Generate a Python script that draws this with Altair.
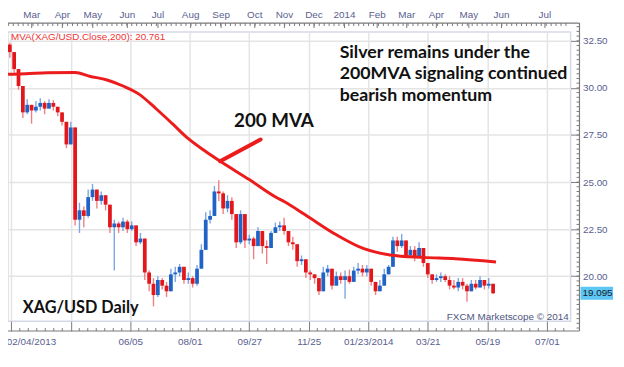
import altair as alt
import pandas as pd
import numpy as np

# ---------------- data ----------------
# candles: one every 3 trading days, starting at bar index -1
bar_start = -1
bar_step = 3
first_open = 32.3
closes = [31.9, 31.0, 30.1, 28.7, 29.1, 28.8, 29.0, 29.2, 28.9, 29.2,
          29.0, 28.7, 28.2, 27.0, 27.9, 23.0, 23.5, 23.2, 24.2, 24.6,
          24.0, 24.3, 23.8, 22.6, 22.8, 22.6, 22.9, 22.5, 22.7, 21.8,
          22.0, 20.2, 19.6, 19.0, 19.8, 19.5, 19.2, 20.1, 20.2, 20.5,
          19.8, 19.9, 19.6, 20.4, 21.4, 23.0, 23.2, 24.5, 24.4, 23.6,
          24.0, 23.3, 21.8, 23.3, 21.9, 22.0, 21.6, 22.4, 21.6, 21.5,
          22.3, 22.6, 22.7, 22.4, 21.8, 21.7, 20.8, 20.9, 20.2, 20.1,
          19.9, 19.2, 20.2, 20.4, 19.5, 20.0, 19.8, 20.0, 19.7, 20.3,
          20.4, 20.2, 20.4, 19.7, 19.2, 19.5, 20.1, 20.5, 21.9, 21.6,
          21.9, 21.1, 21.4, 21.0, 21.5, 20.7, 20.1, 19.8, 19.9, 20.0,
          19.8, 19.5, 19.4, 19.7, 19.5, 19.2, 19.6, 19.4, 19.8, 19.5,
          19.6, 19.095]
highs = [32.4, 31.5, 30.8, 29.8, 29.4, 29.1, 29.3, 29.45, 29.3, 29.4,
         29.35, 29.0, 28.6, 27.9, 28.2, 27.6, 23.9, 23.7, 24.6, 24.9,
         24.6, 24.5, 24.2, 23.5, 23.0, 22.9, 23.1, 23.0, 22.9, 22.3,
         22.3, 21.9, 20.3, 19.9, 20.0, 19.9, 19.7, 20.4, 20.5, 20.65,
         20.3, 20.2, 20.0, 20.6, 21.7, 23.4, 23.5, 24.8, 25.1, 24.5,
         24.3, 24.2, 22.8, 23.5, 22.9, 22.2, 22.1, 22.6, 22.1, 21.9,
         22.4, 22.85, 22.9, 23.1, 22.3, 22.1, 21.3, 21.1, 20.6, 20.3,
         20.1, 19.7, 20.5, 20.6, 20.2, 20.25, 20.2, 20.3, 20.35, 20.5,
         20.7, 20.6, 20.6, 20.2, 19.6, 19.8, 20.4, 20.6, 22.1, 22.1,
         22.25, 21.8, 21.6, 21.6, 21.8, 21.4, 20.6, 20.1, 20.1, 20.2,
         20.1, 20.0, 19.8, 19.9, 19.9, 19.6, 19.8, 19.8, 20.0, 19.8,
         19.9, 19.6]
lows = [31.6, 30.8, 29.9, 28.4, 28.6, 28.1, 28.7, 28.8, 28.6, 28.9,
        28.8, 28.5, 28.0, 26.8, 27.3, 22.7, 22.3, 22.6, 23.1, 24.0,
        23.6, 23.8, 23.5, 22.3, 20.3, 22.3, 22.4, 22.3, 22.4, 21.6,
        21.7, 19.8, 19.2, 18.4, 18.9, 19.3, 18.9, 19.3, 19.7, 20.0,
        19.6, 19.6, 19.4, 19.5, 20.4, 21.8, 22.8, 23.3, 24.0, 23.3,
        23.4, 23.0, 21.5, 21.7, 21.5, 21.7, 20.9, 21.6, 21.2, 20.65,
        21.5, 22.3, 22.4, 22.2, 21.6, 21.4, 20.5, 20.6, 19.9, 19.8,
        19.6, 19.0, 19.4, 20.0, 19.3, 19.7, 19.6, 18.8, 19.6, 19.9,
        20.1, 20.0, 20.0, 19.5, 19.0, 19.2, 19.6, 20.1, 20.5, 21.3,
        21.5, 21.0, 21.0, 20.8, 21.2, 20.5, 19.9, 19.6, 19.7, 19.7,
        19.7, 19.3, 19.3, 19.2, 19.3, 18.65, 19.2, 19.3, 19.4, 19.3,
        19.35, 19.05]

# 200-day moving average (bar index, value)
mva_idx = [-2.2, 10, 25, 44, 54, 66, 77, 88, 100, 111, 122, 134, 144,
           164, 183, 188, 202, 224, 243, 261, 284, 306, 334]
mva_val = [30.72, 30.75, 30.80, 30.82, 30.62, 30.42, 30.10, 29.67, 28.88,
           28.10, 27.30, 26.62, 26.10, 25.13, 24.17, 23.97, 23.29,
           22.20, 21.46, 21.13, 21.00, 20.93, 20.76]
mva_last = 20.761
last_close = 19.095

# hand-drawn pointer to the MVA
arrow_idx = [171.8, 143.9]
arrow_val = [27.26, 26.10]

# bottom axis: bar index of each labelled tick
xtick_idx = [0, 41, 82, 123, 164, 205, 246, 287, 328, 369]
xtick_lab = ["02/04/2013", "", "06/05", "08/01", "09/27", "11/25",
             "01/23/2014", "03/21", "05/19", "07/01"]
# top axis: months
month_idx = [14.1, 35.2, 56.2, 80.0, 101.1, 123.6, 144.6, 167.8, 188.2,
             208.6, 229.6, 252.1, 272.5, 292.9, 315.3, 337.8, 367.7]
month_lab = ["Mar", "Apr", "May", "Jun", "Jul", "Aug", "Sep", "Oct", "Nov",
             "Dec", "2014", "Feb", "Mar", "Apr", "May", "Jun", "Jul"]
ytick_vals = [17.5, 20.0, 22.5, 25.0, 27.5, 30.0, 32.5]

# ---------------- tables ----------------
opens = [first_open] + closes[:-1]
cdf = pd.DataFrame({
    "n": [bar_start + bar_step * i for i in range(len(closes))],
    "open": opens,
    "close": closes,
    "high": [max(h, o, c) for h, o, c in zip(highs, opens, closes)],
    "low": [min(l, o, c) for l, o, c in zip(lows, opens, closes)],
})
mdf = pd.DataFrame({"n": mva_idx, "v": mva_val})
adf = pd.DataFrame({"n": arrow_idx, "v": arrow_val})
mondf = pd.DataFrame({"n": month_idx, "label": month_lab})
top_minor = pd.DataFrame({"n": np.arange(-2.0, 385.0, 3.4)})
bot_minor = pd.DataFrame({"n": [i * 41 / 7 for i in range(0, 66) if i % 7 != 0]})
right_minor = pd.DataFrame({"v": np.arange(17.25, 33.3, 0.25)})
lastdf = pd.DataFrame({"v": [last_close]})
one = pd.DataFrame({"a": [0]})

# ---------------- styling ----------------
LBL = "#59608f"
TICK = "#7a7a7a"
GRID = "#e4e4e4"
FONT = "Liberation Sans"
UP_BODY, DN_BODY = "#1f63c6", "#e3161b"
UP_WICK, DN_WICK = "#7aa6e4", "#f07f82"
MVA_RED = "#ec1c1c"

lab_expr = "[" + ",".join("'%s'" % s for s in xtick_lab) + "][indexof([" + \
    ",".join(str(v) for v in xtick_idx) + "], datum.value)]"

xscale = alt.Scale(domain=[-2.24, 385.4], nice=False, zero=False)
yscale = alt.Scale(domain=[17.615, 32.97], nice=False, zero=False)
xaxis = alt.Axis(values=xtick_idx, labelExpr=lab_expr, title=None, orient="bottom",
                 grid=True, gridColor=GRID, gridWidth=1.5, domain=False,
                 tickSize=10, tickColor=TICK, labelColor=LBL, labelFont=FONT,
                 labelFontSize=10, labelPadding=6, labelFlush=5, labelFlushOffset=5)
yaxis = alt.Axis(values=ytick_vals, format=".2f", title=None, orient="right",
                 grid=True, gridColor=GRID, gridWidth=1.5,
                 gridOpacity={"condition": {"test": "datum.value < 18", "value": 0}, "value": 1},
                 domain=False, tickSize=9, tickColor=TICK, labelColor=LBL,
                 labelFont=FONT, labelFontSize=10, labelPadding=3)


def X(f):
    return alt.X(f + ":Q", scale=xscale, axis=xaxis)


def Y(f):
    return alt.Y(f + ":Q", scale=yscale, axis=yaxis)


updown = "datum.close >= datum.open"
wick = alt.Chart(cdf).mark_rule(strokeWidth=1.4).encode(
    x=X("n"), y=Y("low"), y2="high",
    color=alt.condition(updown, alt.value(UP_WICK), alt.value(DN_WICK)))
body = alt.Chart(cdf).mark_rule(strokeWidth=3.8, strokeCap="butt").encode(
    x=X("n"), y=Y("open"), y2="close",
    color=alt.condition(updown, alt.value(UP_BODY), alt.value(DN_BODY)))
mva = alt.Chart(mdf).mark_line(color=MVA_RED, strokeWidth=3, interpolate="monotone").encode(
    x=X("n"), y=Y("v"))
arrow = alt.Chart(adf).mark_line(color=MVA_RED, strokeWidth=4, strokeCap="round").encode(
    x=X("n"), y=Y("v"))

months = alt.Chart(mondf).mark_text(font=FONT, fontSize=10, color=LBL, baseline="alphabetic").encode(
    x=X("n"), y=alt.value(-14), text="label:N")
month_ticks = alt.Chart(mondf).mark_rule(color=TICK).encode(
    x=X("n"), y=alt.value(-9), y2=alt.value(-4))
top_ticks = alt.Chart(top_minor).mark_rule(color=TICK).encode(
    x=X("n"), y=alt.value(-9), y2=alt.value(-6))
bot_ticks = alt.Chart(bot_minor).mark_rule(color=TICK).encode(
    x=X("n"), y=alt.value(300), y2=alt.value(303))
right_ticks = alt.Chart(right_minor).mark_rule(color=TICK).encode(
    y=Y("v"), x=alt.value(576), x2=alt.value(579))

ruler_top = alt.Chart(one).mark_rule(color=TICK, strokeWidth=1.2).encode(
    x=alt.value(0), x2=alt.value(579), y=alt.value(-9))
ruler_right = alt.Chart(one).mark_rule(color=TICK, strokeWidth=1.2).encode(
    x=alt.value(579), y=alt.value(-9), y2=alt.value(303))
ruler_bot = alt.Chart(one).mark_rule(color=TICK, strokeWidth=1.2).encode(
    x=alt.value(0), x2=alt.value(579), y=alt.value(303))

last_box = alt.Chart(lastdf).mark_rule(color="#5cc6f4", strokeWidth=13, strokeCap="butt").encode(
    y=Y("v"), x=alt.value(580), x2=alt.value(613))
last_txt = alt.Chart(lastdf).mark_text(font=FONT, fontSize=10, color="#1a1a2a", align="left",
                                       baseline="middle").encode(
    y=Y("v"), x=alt.value(582), text=alt.Text("v:Q", format=".3f"))

mva_lbl = alt.Chart(one).mark_text(font=FONT, fontSize=10, color="#ee3535", align="left",
                                   baseline="alphabetic").encode(
    x=alt.value(3), y=alt.value(8.5),
    text=alt.value("MVA(XAG/USD.Close,200): %.3f" % mva_last))
note = alt.Chart(one).mark_text(font="Lato", fontSize=18, fontWeight="bold", color="#111111",
                                align="left", baseline="alphabetic", lineHeight=22).encode(
    x=alt.value(336), y=alt.value(26),
    text=alt.value(["Silver remains under the", "200MVA signaling continued", "bearish momentum"]))
mva_note = alt.Chart(one).mark_text(font="Lato", fontSize=19, fontWeight="bold", color="#111111",
                                    align="left", baseline="alphabetic").encode(
    x=alt.value(229), y=alt.value(96), text=alt.value("200 MVA"))
pair = alt.Chart(one).mark_text(font="Lato", fontSize=16.5, fontWeight="bold", color="#111111",
                                align="left", baseline="alphabetic").encode(
    x=alt.value(15), y=alt.value(285), text=alt.value("XAG/USD Daily"))
credit = alt.Chart(one).mark_text(font=FONT, fontSize=10, color="#4e5480", align="right",
                                  baseline="alphabetic").encode(
    x=alt.value(568), y=alt.value(292), text=alt.value("FXCM Marketscope © 2014"))

chart = alt.layer(
    wick, body, mva, arrow,
    months, month_ticks, top_ticks, bot_ticks, right_ticks,
    ruler_top, ruler_right, ruler_bot,
    last_box, last_txt, mva_lbl, note, mva_note, pair, credit,
).properties(
    width=570, height=293,
    padding={"left": 0, "top": 22, "right": 46, "bottom": 30},
    autosize=alt.AutoSizeParams(type="none"),
    background="white",
).configure_view(stroke="#d5d8e6", strokeWidth=1.5)

chart.save("out.html", embed_options={"renderer": "svg", "actions": False})
